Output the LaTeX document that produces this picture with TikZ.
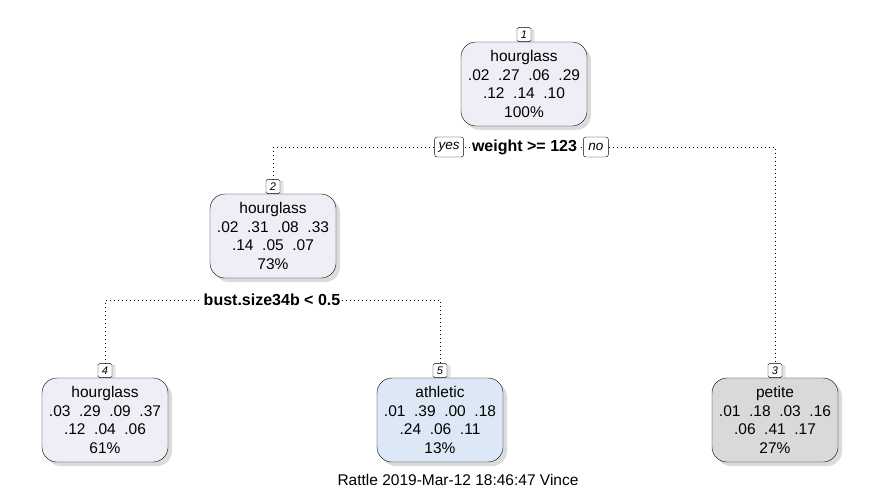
\documentclass[tikz,border=0pt]{standalone}
\usepackage{fontspec}
\setmainfont{Liberation Sans}
\usetikzlibrary{positioning,shadows}

\definecolor{hourfill}{HTML}{EEEEF6}
\definecolor{athfill}{HTML}{DCE8F5}
\definecolor{petfill}{HTML}{D9D9D9}

\tikzset{
  leaf/.style={draw, rounded corners=15pt, minimum width=126pt, minimum height=84pt,
    inner sep=0pt, align=center, font=\fontsize{15.5}{18.7}\selectfont,
    drop shadow={shadow xshift=4pt, shadow yshift=-4pt, fill=black!28}},
  numbox/.style={draw, fill=white, rounded corners=1.5pt, minimum width=14pt,
    minimum height=14pt, inner sep=0pt, font=\fontsize{11}{13}\selectfont\itshape,
    drop shadow={shadow xshift=3.5pt, shadow yshift=-1pt, fill=black!22}},
  dotline/.style={line width=0.9pt, dash pattern=on 0.9pt off 3.1pt},
  splitlab/.style={fill=white, inner xsep=2pt, inner ysep=1pt,
    font=\fontsize{16}{18}\selectfont\bfseries},
  yesno/.style={draw, fill=white, rounded corners=2.5pt, minimum height=20pt,
    minimum width=25pt, inner xsep=4pt, inner ysep=0pt, font=\fontsize{13.5}{15}\selectfont\itshape}
}

\begin{document}
\begin{tikzpicture}[x=1pt, y=-1pt]
        \useasboundingbox (0,0) rectangle (881,491);

        % Tree nodes
        \node[leaf, fill=hourfill] (n1) at (524,84) {hourglass\\.02~~.27~~.06~~.29\\.12~~.14~~.10\\100\%};
        \node[leaf, fill=hourfill] (n2) at (273,236) {hourglass\\.02~~.31~~.08~~.33\\.14~~.05~~.07\\73\%};
        \node[leaf, fill=hourfill] (n4) at (105,420) {hourglass\\.03~~.29~~.09~~.37\\.12~~.04~~.06\\61\%};
        \node[leaf, fill=athfill] (n5) at (440,420) {athletic\\.01~~.39~~.00~~.18\\.24~~.06~~.11\\13\%};
        \node[leaf, fill=petfill] (n3) at (775,420) {petite\\.01~~.18~~.03~~.16\\.06~~.41~~.17\\27\%};

        % Node numbers
        \node[numbox, above=0pt of n1] (l1) {1};
        \node[numbox, above=0pt of n2] (l2) {2};
        \node[numbox, above=0pt of n4] (l4) {4};
        \node[numbox, above=0pt of n5] (l5) {5};
        \node[numbox, above=0pt of n3] (l3) {3};

        % Splits
        \coordinate (j1) at (524.5,147);
        \coordinate (j2) at (272,300);
        \draw[dotline] (l2.north) |- (j1) -| (l3.north);
        \draw[dotline] (l4.north) |- (j2) -| (l5.north);

        \node[splitlab] (s1) at (j1) {weight >= 123};
        \node[yesno, left=6pt of s1] (yes) {yes};
        \node[yesno, right=4pt of s1] (no) {no};
        \node[splitlab] (s2) at (j2) {bust.size34b < 0.5};

        % Footer
        \node[font=\fontsize{15.5}{18}\selectfont] (foot) at (458,480) {Rattle 2019-Mar-12 18:46:47 Vince};
      \end{tikzpicture}
\end{document}
